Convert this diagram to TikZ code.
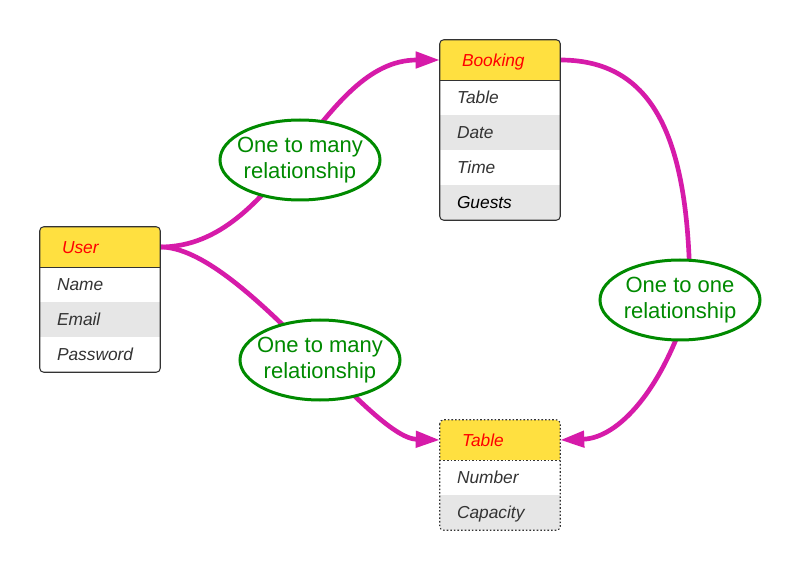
\documentclass[tikz,border=0pt]{standalone}
\usepackage{fontspec}
\setmainfont{Liberation Sans}
\usetikzlibrary{arrows.meta,shapes.geometric,backgrounds}
\definecolor{hdrcol}{HTML}{FFE040}
\definecolor{rowgray}{HTML}{E6E6E6}
\definecolor{edgecol}{HTML}{333333}
\definecolor{conncol}{HTML}{D61BA9}
\definecolor{relgreen}{HTML}{008A00}
\definecolor{hdrtext}{HTML}{FF0000}
\definecolor{rowtext}{HTML}{333333}
\begin{document}
\begin{tikzpicture}[x=0.75pt,y=-0.75pt,
 cellfont/.style={font=\itshape\fontsize{13}{15}\selectfont, text height=10.7pt, text depth=1.2pt},
 hdr/.style={rectangle, fill=hdrcol, minimum width=90pt, minimum height=30pt, inner xsep=16.5pt, inner ysep=0pt, text width=57pt, align=left, cellfont, text=hdrtext},
 rowbase/.style={rectangle, minimum width=90pt, minimum height=26.25pt, inner xsep=12.75pt, inner ysep=0pt, text width=64.5pt, align=left, cellfont, text=rowtext},
 roww/.style={rowbase, fill=white},
 rowg/.style={rowbase, fill=rowgray},
 tabborder/.style={draw=edgecol, line width=0.8pt, rounded corners=3pt},
 dotborder/.style={draw=edgecol, line width=0.8pt, rounded corners=3pt, dash pattern=on 1.2pt off 1.5pt},
 conn/.style={draw=conncol, line width=3.5pt, -{Triangle[length=18pt,width=12pt]}},
 rel/.style={ellipse, draw=relgreen, line width=2.25pt, fill=white, minimum width=120pt, minimum height=60pt, inner sep=0pt},
 reltext/.style={text=relgreen, align=center, font=\fontsize{16.5}{19.5}\selectfont, inner sep=0pt}
]
\useasboundingbox (0,0) rectangle (800,570);

% Booking table
\begin{scope}
\clip[rounded corners=3pt] (440,40) rectangle (560,220);
\node[hdr] (bookh) at (500,60) {Booking};
\node[roww] (book1) at (500,97.5) {Table};
\node[rowg] (book2) at (500,132.5) {Date};
\node[roww] (book3) at (500,167.5) {Time};
\node[rowg, text=black] (book4) at (500,202.5) {Guests};
\end{scope}
\draw[tabborder] (bookh.north west) rectangle (book4.south east);
\draw[draw=edgecol, line width=0.8pt] (bookh.south west) -- (bookh.south east);

% User table
\begin{scope}
\clip[rounded corners=3pt] (40,227) rectangle (160,372);
\node[hdr] (userh) at (100,247) {User};
\node[roww] (user1) at (100,284.5) {Name};
\node[rowg] (user2) at (100,319.5) {Email};
\node[roww] (user3) at (100,354.5) {Password};
\end{scope}
\draw[tabborder] (userh.north west) rectangle (user3.south east);
\draw[draw=edgecol, line width=0.8pt] (userh.south west) -- (userh.south east);

% Table table
\begin{scope}
\clip[rounded corners=3pt] (440,420) rectangle (560,530);
\node[hdr] (tabh) at (500,440) {Table};
\node[roww] (tab1) at (500,477.5) {Number};
\node[rowg] (tab2) at (500,512.5) {Capacity};
\end{scope}
\draw[dotborder] (tabh.north west) rectangle (tab2.south east);
\draw[draw=edgecol, line width=0.8pt, dash pattern=on 1.2pt off 1.5pt] (tabh.south west) -- (tabh.south east);

% relationships
\node[rel] (rel1) at (300,160) {};
\node[reltext] (rel1t) at (rel1.center) {One to many\\relationship};
\node[rel] (rel2) at (320,360) {};
\node[reltext] (rel2t) at (rel2.center) {One to many\\relationship};
\node[rel] (rel3) at (680,300) {};
\node[reltext] (rel3t) at (rel3.center) {One to one\\relationship};

\begin{scope}[on background layer]
\fill[white] (0,0) rectangle (800,570);
\draw[conn] (userh.east) .. controls +(120,0) and +(-120,0) .. (bookh.west);
\draw[conn] (userh.east) .. controls +(80,0) and +(-70,-2) .. (tabh.west);
\draw[conn] (bookh.east) .. controls +(100,0) and +(0,-150) .. ([xshift=7.5pt]rel3.center)
  .. controls +(-27,90) and +(58,-2) .. (tabh.east);
\end{scope}
\end{tikzpicture}
\end{document}
